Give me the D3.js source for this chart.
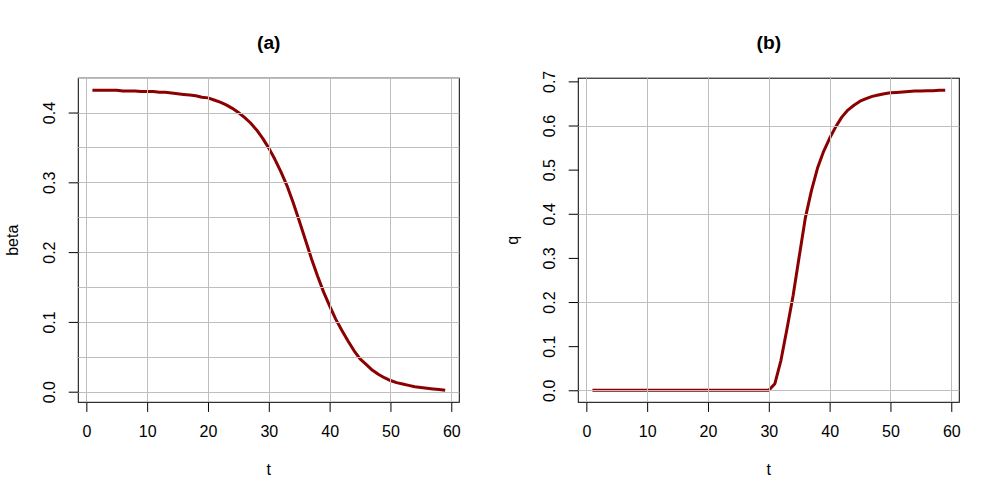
<!DOCTYPE html>
<html>
<head>
<meta charset="utf-8">
<script src="https://cdn.jsdelivr.net/npm/d3@7"></script>
<style>
  html, body { margin: 0; padding: 0; background: #fff; }
  svg { display: block; }
  text { font-family: "Liberation Sans", Arial, sans-serif; fill: #000; }
</style>
</head>
<body>
<svg id="chart" width="1000" height="500"></svg>
<script>
// ---- data ----
const tValues = [1,2,3,4,5,6,7,8,9,10,11,12,13,14,15,16,17,18,19,20,
  21,22,23,24,25,26,27,28,29,30,31,32,33,34,35,36,37,38,39,40,
  41,42,43,44,45,46,47,48,49,50,51,52,53,54,55,56,57,58,59];

const betaValues = [0.432,0.432,0.432,0.432,0.432,0.431,0.431,0.431,0.430,0.430,
  0.430,0.429,0.429,0.428,0.427,0.426,0.425,0.424,0.422,0.421,
  0.418,0.415,0.411,0.406,0.400,0.393,0.385,0.375,0.363,0.349,
  0.333,0.315,0.295,0.271,0.245,0.218,0.191,0.166,0.143,0.123,
  0.104,0.088,0.073,0.059,0.047,0.039,0.031,0.025,0.020,0.016,
  0.013,0.011,0.009,0.007,0.006,0.005,0.004,0.003,0.002];

const qValues = [0,0,0,0,0,0,0,0,0,0,
  0,0,0,0,0,0,0,0,0,0,
  0,0,0,0,0,0,0,0,0,0,
  0.015,0.068,0.140,0.215,0.303,0.390,0.452,0.503,0.541,0.571,
  0.597,0.619,0.635,0.646,0.655,0.661,0.666,0.669,0.672,0.674,
  0.675,0.676,0.677,0.678,0.678,0.679,0.679,0.680,0.680];

const xTicks = [0,10,20,30,40,50,60];
const betaTicks = [0.0,0.1,0.2,0.3,0.4];
const betaGrid = [0.0,0.05,0.1,0.15,0.2,0.25,0.3,0.35,0.4,0.45];
const qTicks = [0.0,0.1,0.2,0.3,0.4,0.5,0.6,0.7];
const qGrid = [0.0,0.2,0.4,0.6];

const panels = [
  { title: "(a)", ylab: "beta", values: betaValues, yTicks: betaTicks, yGrid: betaGrid, left: 78.3 },
  { title: "(b)", ylab: "q",    values: qValues,    yTicks: qTicks,    yGrid: qGrid,    left: 578.3 }
];

// ---- drawing ----
const svg = d3.select("#chart");
const plotW = 381, plotTop = 78.2, plotBottom = 402.3;
const lineColor = "#8B0000", gridColor = "#bebebe";

function expand(ext) {
  const r = ext[1] - ext[0];
  return [ext[0] - 0.04 * r, ext[1] + 0.04 * r];
}

panels.forEach(p => {
  const x = d3.scaleLinear().domain(expand(d3.extent(tValues))).range([p.left, p.left + plotW]);
  const y = d3.scaleLinear().domain(expand(d3.extent(p.values))).range([plotBottom, plotTop]);
  const g = svg.append("g");
  const data = tValues.map((t, i) => [t, p.values[i]]);

  // line
  g.append("path")
    .datum(data)
    .attr("fill", "none")
    .attr("stroke", lineColor)
    .attr("stroke-width", 3)
    .attr("stroke-linejoin", "round")
    .attr("d", d3.line().x(d => x(d[0])).y(d => y(d[1])));

  // box
  g.append("rect")
    .attr("x", x.range()[0]).attr("y", plotTop)
    .attr("width", plotW).attr("height", plotBottom - plotTop)
    .attr("fill", "none").attr("stroke", "#000").attr("stroke-width", 1);

  // grid (drawn on top)
  const grid = g.append("g").attr("stroke", gridColor).attr("stroke-width", 1);
  xTicks.forEach(v => grid.append("line")
    .attr("x1", Math.round(x(v)) + 0.5).attr("x2", Math.round(x(v)) + 0.5)
    .attr("y1", plotTop).attr("y2", plotBottom));
  p.yGrid.forEach(v => grid.append("line")
    .attr("y1", Math.round(y(v)) + 0.5).attr("y2", Math.round(y(v)) + 0.5)
    .attr("x1", x.range()[0]).attr("x2", x.range()[1]));

  // x axis
  const xAxis = d3.axisBottom(x).tickValues(xTicks).tickSize(9.6).tickPadding(0).tickFormat(d3.format("d"));
  const gx = g.append("g").attr("transform", `translate(0,${plotBottom})`).call(xAxis);
  gx.select(".domain").remove();
  gx.selectAll(".tick line").attr("stroke", "#000");
  gx.selectAll(".tick text")
    .attr("font-size", 16).attr("y", 34.7).attr("dy", 0)
    .attr("font-family", "Liberation Sans, Arial, sans-serif").attr("fill", "#000");

  // y axis
  const yAxis = d3.axisLeft(y).tickValues(p.yTicks).tickSize(9.6).tickFormat(d3.format(".1f"));
  const gy = g.append("g").attr("transform", `translate(${x.range()[0]},0)`).call(yAxis);
  gy.select(".domain").remove();
  gy.selectAll(".tick line").attr("stroke", "#000");
  gy.selectAll(".tick text")
    .attr("x", null).attr("dy", null)
    .attr("transform", "translate(-23.5,0) rotate(-90)")
    .attr("text-anchor", "middle")
    .attr("font-size", 16)
    .attr("font-family", "Liberation Sans, Arial, sans-serif").attr("fill", "#000");

  // title
  const cx = (x.range()[0] + x.range()[1]) / 2;
  g.append("text").attr("x", cx).attr("y", 48.5)
    .attr("text-anchor", "middle").attr("font-size", 19.2).attr("font-weight", "bold")
    .text(p.title);

  // x label
  g.append("text").attr("x", cx).attr("y", 475)
    .attr("text-anchor", "middle").attr("font-size", 16)
    .text("t");

  // y label
  g.append("text")
    .attr("transform", `translate(${x.range()[0] - 60},${(plotTop + plotBottom) / 2}) rotate(-90)`)
    .attr("text-anchor", "middle").attr("font-size", 16)
    .text(p.ylab);
});
</script>
</body>
</html>
